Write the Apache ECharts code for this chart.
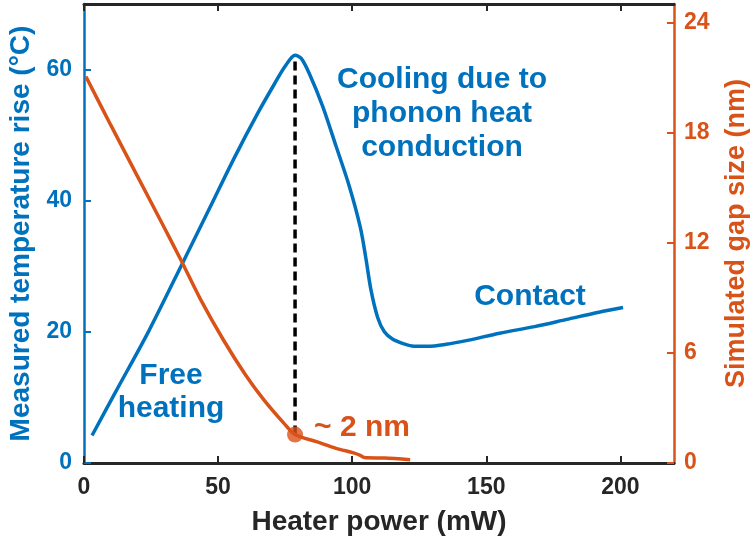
<!DOCTYPE html>
<html>
<head>
<meta charset="utf-8">
<script src="https://cdn.jsdelivr.net/npm/echarts@6/dist/echarts.min.js"></script>
<style>html,body{margin:0;padding:0;background:#fff}#c{width:751px;height:542px}</style>
</head>
<body>
<div id="c"></div>
<script>
// ---- data ----
const xTicks = [0, 50, 100, 150, 200];
const tempTicks = [0, 20, 40, 60];
const gapTicks = [0, 6, 12, 18, 24];

const powerBlue = [3, 12, 24, 37, 47, 56, 65, 71, 75, 78.7, 81, 84, 89, 94, 99, 103, 105, 107, 109.5, 112, 115, 119, 123, 128, 135, 143, 155, 168, 180, 192, 201];
const tempBlue  = [4.2, 11.0, 20.0, 30.7, 39.0, 46.5, 53.5, 57.8, 60.5, 62.2, 61.7, 59.4, 54.4, 48.3, 42.1, 36.0, 31.5, 26.4, 22.2, 20.0, 18.9, 18.2, 17.8, 17.8, 18.1, 18.7, 19.8, 20.8, 21.9, 23.0, 23.7];

const powerGap = [0.7, 10, 20, 30, 36, 43.5, 52, 60, 67, 74.5, 78.7, 87, 94, 100.5, 103, 104.5, 112, 121.6];
const gapVals  = [21.05, 18.4, 15.6, 12.8, 11.1, 8.9, 6.7, 4.85, 3.45, 2.17, 1.55, 1.15, 0.8, 0.55, 0.42, 0.3, 0.27, 0.18];

const contactIndexGap = 10;   // the marked point (~2 nm)
const tempMax = 70, gapMax = 25;

const BLUE = '#0072BD', ORANGE = '#D95319', DARK = '#262626';
const FONT = '"Liberation Sans", Arial, sans-serif';

const blueData = powerBlue.map((p, i) => [p, tempBlue[i]]);
const gapData = powerGap.map((p, i) => [p, gapVals[i]]);
const dotPower = powerGap[contactIndexGap], dotGap = gapVals[contactIndexGap];
const peakTemp = Math.max(...tempBlue);
const dashData = [[dotPower, dotGap * tempMax / gapMax], [dotPower, peakTemp - 0.4]];

const chart = echarts.init(document.getElementById('c'), null, {renderer: 'canvas'});
const tickStyle = (c) => ({show: true, inside: true, length: 7, lineStyle: {color: c, width: 2}});
chart.setOption({
  animation: false,
  backgroundColor: '#fff',
  grid: {left: 84, right: 77, top: 4, bottom: 79, containLabel: false, outerBoundsMode: 'none'},
  xAxis: [{
    type: 'value', min: 0, max: 220, position: 'bottom',
    axisLine: {onZero: false, lineStyle: {color: DARK, width: 3}},
    axisTick: Object.assign(tickStyle(DARK), {customValues: xTicks}),
    axisLabel: {customValues: xTicks, color: DARK, fontSize: 23, fontWeight: 'bold', fontFamily: FONT, margin: 13},
    splitLine: {show: false},
    name: 'Heater power (mW)', nameLocation: 'middle', nameGap: 45,
    nameTextStyle: {color: DARK, fontSize: 28, fontWeight: 'bold', fontFamily: FONT}
  }, {
    type: 'value', min: 0, max: 220, position: 'top',
    axisLine: {onZero: false, lineStyle: {color: DARK, width: 3}},
    axisTick: Object.assign(tickStyle(DARK), {customValues: xTicks}),
    axisLabel: {show: false}, splitLine: {show: false}
  }],
  yAxis: [{
    type: 'value', min: 0, max: tempMax, position: 'left',
    axisLine: {show: true, onZero: false, lineStyle: {color: BLUE, width: 2.5}},
    axisTick: Object.assign(tickStyle(BLUE), {customValues: tempTicks}),
    axisLabel: {customValues: tempTicks, color: BLUE, fontSize: 23, fontWeight: 'bold', fontFamily: FONT, margin: 12},
    splitLine: {show: false},
    name: 'Measured temperature rise (°C)', nameLocation: 'middle', nameGap: 45, nameRotate: 90,
    nameTextStyle: {color: BLUE, fontSize: 28, fontWeight: 'bold', fontFamily: FONT}
  }, {
    type: 'value', min: 0, max: gapMax, position: 'right',
    axisLine: {show: true, onZero: false, lineStyle: {color: ORANGE, width: 2.5}},
    axisTick: Object.assign(tickStyle(ORANGE), {customValues: gapTicks}),
    axisLabel: {customValues: gapTicks, color: ORANGE, fontSize: 23, fontWeight: 'bold', fontFamily: FONT, margin: 10},
    splitLine: {show: false},
    name: 'Simulated gap size (nm)', nameLocation: 'middle', nameGap: 49, nameRotate: 90,
    nameTextStyle: {color: ORANGE, fontSize: 27, fontWeight: 'bold', fontFamily: FONT}
  }],
  series: [{
    type: 'line', data: dashData, xAxisIndex: 0, yAxisIndex: 0, symbol: 'none', z: 2,
    lineStyle: {color: '#000', width: 3.5, type: [9, 5]}
  }, {
    type: 'line', data: blueData, xAxisIndex: 0, yAxisIndex: 0, symbol: 'none', smooth: 0.3, z: 3,
    lineStyle: {color: BLUE, width: 3.5}
  }, {
    type: 'line', data: gapData, xAxisIndex: 0, yAxisIndex: 1, symbol: 'none', smooth: 0.3, z: 4,
    lineStyle: {color: ORANGE, width: 3.5}
  }, {
    type: 'scatter', data: [[dotPower, dotGap]], xAxisIndex: 0, yAxisIndex: 1, symbol: 'circle', symbolSize: 16, z: 5,
    itemStyle: {color: ORANGE}
  }],
  graphic: [
    {type: 'text', z: 10, style: {text: 'Cooling due to\nphonon heat\nconduction', x: 442, y: 114, align: 'center', verticalAlign: 'middle', lineHeight: 34, fill: BLUE, font: 'bold 30px ' + FONT}},
    {type: 'text', z: 10, style: {text: 'Contact', x: 530, y: 297, align: 'center', verticalAlign: 'middle', fill: BLUE, font: 'bold 30px ' + FONT}},
    {type: 'text', z: 10, style: {text: 'Free\nheating', x: 171, y: 392, align: 'center', verticalAlign: 'middle', lineHeight: 33, fill: BLUE, font: 'bold 30px ' + FONT}},
    {type: 'text', z: 10, style: {text: '~ 2 nm', x: 362, y: 428, align: 'center', verticalAlign: 'middle', fill: ORANGE, font: 'bold 30px ' + FONT}}
  ]
});
</script>
</body>
</html>
